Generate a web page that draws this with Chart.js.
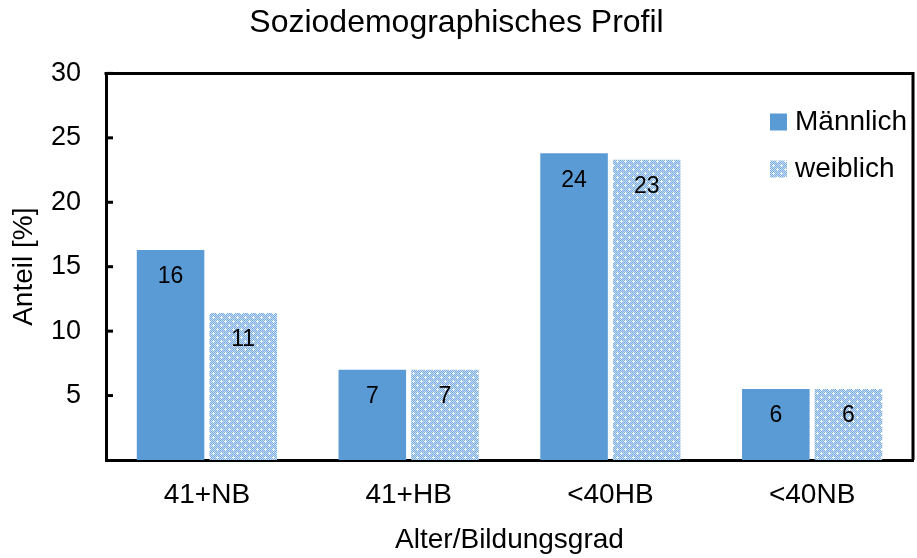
<!DOCTYPE html>
<html>
<head>
<meta charset="utf-8">
<script src="https://cdn.jsdelivr.net/npm/chart.js@4/dist/chart.umd.min.js"></script>
<style>
  html, body { margin: 0; padding: 0; background: #ffffff; }
  #wrap { width: 917px; height: 558px; position: relative; }
</style>
</head>
<body>
<div id="wrap"><canvas id="c" width="917" height="558"></canvas></div>
<script>
// ---- data ----
const categories = ["41+NB", "41+HB", "<40HB", "<40NB"];
const maleValues = [16.3, 7.0, 23.8, 5.5];
const femaleValues = [11.4, 7.0, 23.3, 5.5];
const seriesNames = ["Männlich", "weiblich"];
const yTicks = [5, 10, 15, 20, 25, 30];
const chartTitle = "Soziodemographisches Profil";
const xTitle = "Alter/Bildungsgrad";
const yTitle = "Anteil [%]";

const FONT = "'Liberation Sans', Arial, sans-serif";
const MALE = "#5b9bd5";

function makePattern() {
  const t = document.createElement('canvas');
  t.width = 8; t.height = 8;
  const g = t.getContext('2d');
  for (let y = 0; y < 8; y++) {
    for (let x = 0; x < 8; x++) {
      g.fillStyle = ((x + y) % 2 === 0) ? "#7aaee0" : "#c6dcf3";
      g.fillRect(x, y, 1, 1);
    }
  }
  g.fillStyle = "#ffffff";
  [[1,1],[5,5]].forEach(([cx, cy]) => {
    g.fillRect(cx, cy - 1, 1, 3);
    g.fillRect(cx - 1, cy, 3, 1);
  });
  return g.createPattern(t, 'repeat');
}
const FEMALE_PATTERN = makePattern();

const framePlugin = {
  id: 'frame',
  afterDatasetsDraw(chart) {
    const {ctx, chartArea: a, scales} = chart;
    ctx.save();
    ctx.strokeStyle = "#000";
    ctx.lineWidth = 3;
    ctx.beginPath();
    ctx.moveTo(a.left - 1.5, a.top);
    ctx.lineTo(a.right, a.top);
    ctx.lineTo(a.right, a.bottom);
    ctx.stroke();
    yTicks.forEach(v => {
      const y = scales.y.getPixelForValue(v);
      ctx.beginPath();
      ctx.moveTo(a.left, y);
      ctx.lineTo(a.left + 7, y);
      ctx.stroke();
    });
    ctx.restore();
  }
};

const labelPlugin = {
  id: 'barLabels',
  afterDatasetsDraw(chart) {
    const {ctx} = chart;
    ctx.save();
    ctx.fillStyle = "#000";
    ctx.font = "23px " + FONT;
    ctx.textAlign = "center";
    ctx.textBaseline = "middle";
    chart.data.datasets.forEach((ds, di) => {
      chart.getDatasetMeta(di).data.forEach((bar, i) => {
        ctx.fillText(String(Math.round(ds.data[i])), bar.x, bar.y + 27);
      });
    });
    ctx.restore();
  }
};

const legendPlugin = {
  id: 'customLegend',
  afterDraw(chart) {
    const {ctx} = chart;
    ctx.save();
    ctx.font = "28px " + FONT;
    ctx.textBaseline = "middle";
    ctx.textAlign = "left";
    const items = [
      {y: 122, fill: MALE},
      {y: 169, fill: FEMALE_PATTERN}
    ];
    chart.data.datasets.forEach((ds, i) => {
      const it = items[i];
      ctx.fillStyle = it.fill;
      ctx.fillRect(770, it.y - 8.5, 17, 17);
      ctx.fillStyle = "#000";
      ctx.fillText(ds.label, 795, it.y);
    });
    ctx.restore();
  }
};

new Chart(document.getElementById('c'), {
  type: 'bar',
  data: {
    labels: categories,
    datasets: [
      { label: seriesNames[0], data: maleValues, backgroundColor: MALE, borderWidth: 0,
        categoryPercentage: 0.72, barPercentage: 0.93 },
      { label: seriesNames[1], data: femaleValues, backgroundColor: FEMALE_PATTERN, borderWidth: 0,
        categoryPercentage: 0.72, barPercentage: 0.93 }
    ]
  },
  options: {
    responsive: false,
    animation: false,
    layout: { padding: { left: 0, right: 4, top: 0, bottom: 0 } },
    plugins: {
      legend: { display: false },
      tooltip: { enabled: false },
      title: {
        display: true,
        text: chartTitle,
        color: "#000",
        font: { family: FONT, size: 32, weight: 'normal' },
        padding: { top: 4, bottom: 31 }
      }
    },
    scales: {
      x: {
        grid: { display: false, drawTicks: false },
        border: { display: true, color: "#000", width: 3 },
        ticks: { color: "#000", font: { family: FONT, size: 28 }, padding: 18, maxRotation: 0 },
        title: { display: true, text: xTitle, color: "#000",
                 font: { family: FONT, size: 28 }, padding: { top: 0, bottom: 1 } },
        afterFit(scale) { scale.height = 98; }
      },
      y: {
        min: 0, max: 30,
        afterBuildTicks(scale) { scale.ticks = [0].concat(yTicks).map(v => ({value: v})); },
        grid: { display: false, drawTicks: false },
        border: { display: true, color: "#000", width: 3 },
        ticks: { color: "#000", font: { family: FONT, size: 27 }, padding: 25,
                 callback: v => (v === 0 ? "" : String(v)) },
        title: { display: true, text: yTitle, color: "#000",
                 font: { family: FONT, size: 28 }, padding: { top: 7, bottom: 0 } },
        afterFit(scale) { scale.width = 106; }
      }
    }
  },
  plugins: [framePlugin, labelPlugin, legendPlugin]
});
</script>
</body>
</html>
